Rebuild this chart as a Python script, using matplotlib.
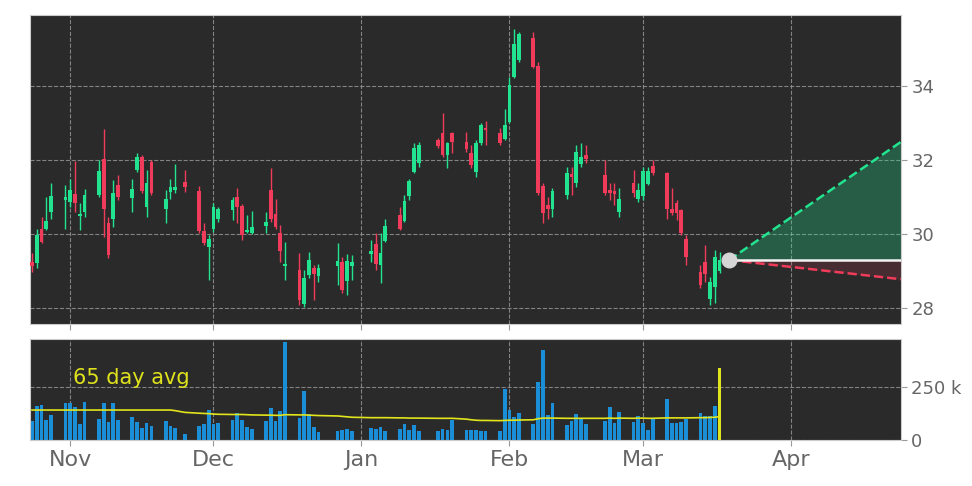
import matplotlib
matplotlib.use("Agg")
import matplotlib.pyplot as plt
import matplotlib.dates as mdates
import numpy as np
import pandas as pd

# trading days Oct 24 2022 .. Mar 17 2023
holidays = ["2022-11-24", "2022-12-26", "2023-01-02", "2023-01-16", "2023-02-20"]
dates = pd.bdate_range("2022-10-24", "2023-03-17", freq="C", holidays=holidays)

opens = [29.25, 29.21, 30.15, 30.15, 30.60, 30.92, 30.87, 31.08, 30.49, 30.60,
         31.05, 32.02, 30.31, 30.40, 31.32, 30.98, 31.73, 32.07, 30.74, 31.95,
         30.67, 31.14, 31.20, 31.40, 31.17, 30.08, 29.66, 30.14, 30.40, 30.65,
         31.01, 30.76, 30.06, 30.02, 30.22, 31.19, 30.54, 30.02, 29.14, 29.03,
         28.11, 28.89, 29.07, 28.86, 29.14, 29.24, 28.73, 29.14, 29.46, 29.73,
         29.16, 29.82, 30.51, 30.36, 31.04, 31.68, 31.91, 32.54, 32.72, 32.14,
         32.72, 32.50, 32.18, 31.68, 32.47, 32.86, 32.72, 32.56, 33.04, 34.25,
         34.70, 35.29, 34.54, 31.30, 30.79, 30.69, 31.05, 31.62, 31.37, 31.89,
         32.14, 31.59, 31.19, 31.17, 30.60, 31.37, 30.96, 31.04, 31.35, 31.84,
         31.64, 30.69, 30.83, 30.65, 29.88, 28.98, 29.25, 28.24, 28.58, 29.01]
highs = [29.49, 30.15, 30.47, 30.99, 31.39, 31.32, 31.48, 31.98, 30.83, 31.22,
         32.00, 32.83, 30.47, 31.46, 31.59, 31.48, 32.20, 32.14, 31.73, 32.00,
         31.19, 31.50, 31.90, 31.73, 31.30, 30.29, 29.97, 30.83, 30.74, 31.01,
         31.24, 30.80, 30.51, 30.63, 30.60, 31.78, 30.96, 30.24, 29.79, 29.48,
         29.03, 29.52, 29.16, 29.19, 29.75, 29.39, 29.45, 29.43, 29.84, 30.02,
         30.02, 30.42, 30.74, 31.05, 31.50, 32.45, 32.50, 32.59, 33.26, 32.50,
         32.77, 32.77, 32.41, 32.54, 33.01, 33.06, 32.86, 33.37, 34.25, 35.53,
         35.47, 35.47, 34.66, 31.37, 31.00, 31.24, 31.82, 31.82, 32.41, 32.45,
         32.41, 32.00, 31.37, 31.37, 31.24, 31.73, 31.37, 31.82, 31.82, 32.00,
         31.68, 31.24, 30.92, 30.69, 29.97, 29.16, 29.70, 28.85, 29.57, 29.52]
lows = [28.98, 29.07, 29.75, 30.11, 30.42, 30.13, 30.73, 30.60, 30.11, 30.47,
        31.01, 29.93, 29.34, 30.20, 30.92, 30.60, 31.68, 31.10, 30.47, 31.05,
        30.31, 30.96, 31.10, 31.14, 30.02, 29.70, 28.76, 30.06, 30.33, 30.38,
        30.29, 29.84, 30.02, 30.00, 30.02, 30.33, 30.15, 29.25, 28.76, 28.08,
        28.04, 28.80, 28.22, 28.71, 28.62, 28.40, 28.35, 28.76, 29.25, 29.03,
        28.67, 29.79, 30.11, 30.33, 30.92, 31.64, 31.82, 32.32, 32.09, 31.78,
        32.18, 32.23, 31.78, 31.55, 32.41, 32.41, 32.41, 32.54, 32.99, 34.21,
        34.66, 34.48, 31.05, 30.31, 30.40, 30.47, 30.96, 31.05, 31.28, 31.82,
        31.91, 31.05, 30.92, 30.78, 30.47, 31.01, 30.87, 30.92, 31.32, 31.59,
        30.42, 30.51, 30.38, 29.97, 29.16, 28.53, 28.71, 28.08, 28.13, 28.94]
closes = [29.13, 29.97, 29.79, 30.36, 31.03, 30.99, 31.19, 30.83, 30.53, 31.05,
          31.70, 30.67, 29.43, 31.10, 31.01, 31.22, 32.09, 31.17, 31.39, 31.10,
          30.96, 31.28, 31.26, 31.26, 30.08, 29.77, 29.88, 30.72, 30.67, 30.92,
          30.74, 29.97, 30.10, 30.20, 30.33, 30.40, 30.20, 29.55, 29.18, 28.22,
          28.80, 29.30, 28.92, 29.07, 29.27, 28.50, 29.27, 29.25, 29.55, 29.19,
          29.48, 30.22, 30.15, 30.90, 31.44, 32.32, 32.41, 32.39, 32.14, 32.45,
          32.50, 32.29, 31.86, 32.45, 32.95, 32.81, 32.47, 32.95, 34.03, 35.14,
          35.41, 34.52, 31.10, 30.58, 30.69, 31.17, 31.64, 31.53, 32.22, 32.09,
          32.02, 31.10, 31.10, 31.08, 30.96, 31.10, 31.19, 31.71, 31.71, 31.64,
          30.69, 30.58, 30.56, 30.02, 29.39, 28.62, 28.92, 28.71, 29.39, 29.30]

volume = [90, 160, 165, 94, 118, 176, 176, 157, 74, 181,
          97, 173, 86, 173, 94, 110, 86, 58, 79, 68,
          90, 68, 58, 30, 68, 74, 141, 74, 82, 94,
          126, 94, 63, 50, 88, 152, 90, 137, 461, 105,
          231, 121, 63, 39, 42, 47, 52, 42, 55, 52,
          63, 42, 52, 75, 47, 71, 42, 42, 52, 47,
          94, 46, 46, 46, 42, 42, 42, 241, 142, 110,
          126, 75, 272, 425, 118, 173, 71, 90, 123, 102,
          74, 90, 156, 79, 134, 86, 115, 79, 47, 99,
          193, 79, 79, 86, 99, 126, 113, 113, 160, 338]
avg65 = [141] * 22 + [138, 130, 126, 125, 124, 122, 121,
         120, 120, 120, 119, 118, 117, 117, 116, 116, 119,
         118, 118, 117, 116, 115, 113, 111, 109, 107,
         105, 105, 105, 105, 104, 104, 103, 103, 103,
         102, 102, 102, 102, 98, 95, 93, 92, 92,
         91, 92, 93, 93, 94, 95, 100, 103, 103, 103,
         102, 102, 102, 102, 102, 102, 103, 102, 103,
         102, 103, 103, 102, 102, 104, 104, 104, 104, 104,
         105, 105, 106, 107, 110]

proj_dates = ["2023-03-19", "2023-04-24"]
proj_mid = [29.30, 29.30]
proj_up = [29.30, 32.49]
proj_down = [29.30, 28.78]

green = "#22e38f"
red = "#f03c5a"
bg = "#2a2a2a"
gridc = "#9a9a9a"
tickc = "#666666"

x = mdates.date2num(dates)
o = np.array(opens); h = np.array(highs); l = np.array(lows); c = np.array(closes)
cols = [green if cc >= oo else red for oo, cc in zip(o, c)]
px = mdates.date2num(pd.to_datetime(proj_dates))

fig = plt.figure(figsize=(9.72, 4.86), dpi=100)
ax = fig.add_axes([0.0309, 0.3333, 0.896, 0.636])
axv = fig.add_axes([0.0309, 0.0947, 0.896, 0.208], sharex=ax)

for a in (ax, axv):
    a.set_facecolor(bg)
    a.grid(color=gridc, ls="--", lw=0.8, alpha=0.8)
    a.set_axisbelow(True)
    for s in a.spines.values():
        s.set_color("#cccccc")
    a.yaxis.tick_right()
    a.tick_params(colors="#999999", labelcolor=tickc, length=4)

# candles
ax.vlines(x, l, h, color=cols, lw=1, zorder=2)
ax.bar(x, np.maximum(np.abs(c - o), 0.04), bottom=np.minimum(o, c),
       width=0.78, color=cols, zorder=3)

# projection
ax.fill_between(px, proj_mid, proj_up, color=green, alpha=0.28, lw=0, zorder=2)
ax.fill_between(px, proj_down, proj_mid, color=red, alpha=0.15, lw=0, zorder=2)
ax.plot(px, proj_up, color=green, ls="--", lw=1.8, zorder=3)
ax.plot(px, proj_down, color=red, ls="--", lw=1.8, zorder=3)
ax.plot(px, proj_mid, color="#f2f2f2", lw=1.8, zorder=3)
ax.scatter(px[:1], proj_mid[:1], s=110, color="#d6d6d6", zorder=5)

ax.set_ylim(27.57, 35.92)
ax.set_yticks([28, 30, 32, 34])
ax.tick_params(axis="y", labelsize=13)
ax.tick_params(axis="x", labelbottom=False)

# volume
vcols = ["#1a8ed6"] * (len(volume) - 1) + ["#e2e41c"]
axv.bar(x, np.array(volume) * 1000, width=0.78, color=vcols, zorder=2)
axv.plot(x, np.array(avg65) * 1000, color="#e2e41c", lw=1.2, zorder=3)
axv.text(mdates.date2num(pd.Timestamp("2022-11-01 12:00")), 292000, "65 day avg",
         color="#dfe21c", fontsize=15, ha="left", va="center")
axv.set_ylim(0, 476000)
axv.set_yticks([0, 250000])
axv.set_yticklabels(["0", "250 k"])
axv.tick_params(axis="y", labelsize=13)
axv.tick_params(axis="x", labelsize=16)

axv.xaxis.set_major_locator(mdates.MonthLocator())
axv.xaxis.set_major_formatter(mdates.DateFormatter("%b"))
axv.set_xlim(mdates.date2num(pd.Timestamp("2022-10-23 14:00")),
             mdates.date2num(pd.Timestamp("2023-04-24")))

fig.savefig("out.png", dpi=100)
